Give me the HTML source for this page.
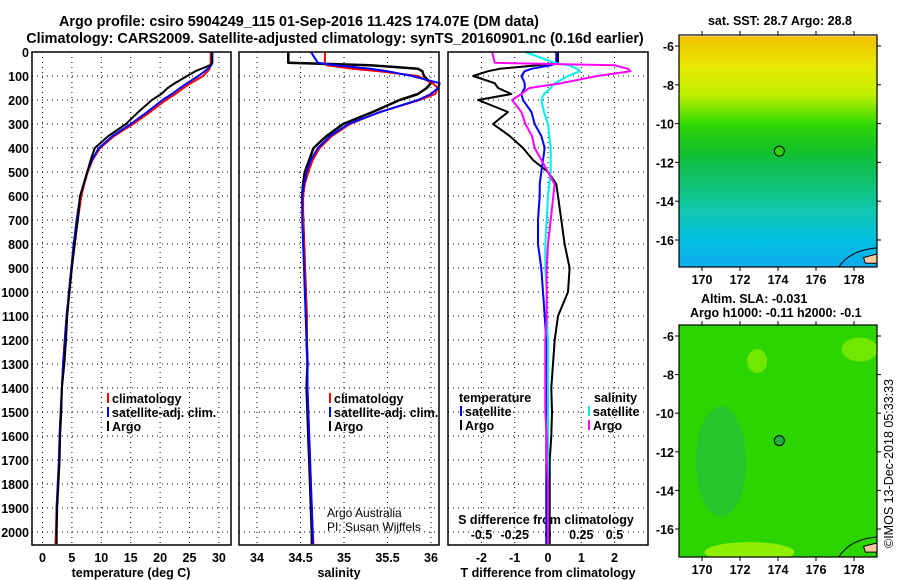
<!DOCTYPE html>
<html><head><meta charset="utf-8">
<style>
body{margin:0;background:#fff;}
svg{display:block;font-family:"Liberation Sans",sans-serif;}
.b{font-weight:bold;font-size:14.4px;}
.t{font-weight:bold;font-size:12.5px;}
</style></head>
<body>
<svg id="c" width="900" height="580" viewBox="0 0 900 580" xmlns="http://www.w3.org/2000/svg">
<text x="299" y="26" text-anchor="middle" class="b">Argo profile: csiro 5904249_115 01-Sep-2016 11.42S 174.07E (DM data)</text>
<text x="335" y="43" text-anchor="middle" class="b">Climatology: CARS2009. Satellite-adjusted climatology: synTS_20160901.nc (0.16d earlier)</text>
<text x="780" y="25" text-anchor="middle" class="t">sat. SST: 28.7 Argo: 28.8</text>
<text x="701" y="303" class="t">Altim. SLA: -0.031</text>
<text x="690" y="317" class="t">Argo h1000: -0.11 h2000: -0.1</text>
<text transform="translate(893,548) rotate(-90)" font-size="12.5">©IMOS 13-Dec-2018 05:33:33</text>
<text x="327" y="517" font-size="12">Argo Australia</text>
<text x="327" y="531" font-size="12">PI: Susan Wijffels</text>
</svg>
<script>
// ---- data ----
const depthTicks=[0,100,200,300,400,500,600,700,800,900,1000,1100,1200,1300,1400,1500,1600,1700,1800,1900,2000];
const tTicks=[0,5,10,15,20,25,30];
const sTicks=[34,34.5,35,35.5,36];
const sTickLabels=["34","34.5","35","35.5","36"];
const dtTicks=[-2,-1,0,1,2];
const dsTicks=[-0.5,-0.25,0,0.25,0.5];
const dsTickLabels=["-0.5","-0.25","0","0.25","0.5"];
const depths=[0,45,55,70,80,100,130,150,175,200,250,300,350,400,450,500,550,600,700,800,900,1000,1100,1200,1300,1400,1500,1600,1700,1800,1900,2000,2050];
const tempArgo=[28.8,28.8,28.5,27,26,24.6,22.5,21.3,20.2,18.6,16.3,14.2,11.2,8.9,8.2,7.6,7,6.4,6,5.5,5,4.6,4.2,4,3.7,3.3,3.2,3.0,2.9,2.7,2.5,2.4,2.4];
const tempClim=[28.6,28.6,28.6,28.4,28.1,27.3,25.2,24,22.6,21,18.3,15.4,12.2,9.8,8.5,7.7,7.1,6.6,6,5.4,4.9,4.5,4.1,3.8,3.5,3.3,3.1,2.9,2.8,2.6,2.4,2.3,2.2];
const tempSat=[28.9,28.9,28.7,28.1,27.6,26.5,24.6,23.4,22,20.4,17.8,15,11.9,9.6,8.4,7.6,7,6.4,5.8,5.3,4.9,4.5,4.1,3.8,3.5,3.3,3.1,2.9,2.8,2.6,2.4,2.4,2.4];
const salArgo=[34.36,34.36,35.3,35.85,35.9,35.92,36.0,35.95,35.85,35.64,35.33,34.99,34.8,34.65,34.6,34.55,34.53,34.52,34.53,34.54,34.55,34.56,34.57,34.57,34.58,34.57,34.58,34.59,34.6,34.61,34.62,34.63,34.63];
const salClim=[34.78,34.78,34.8,35.1,35.4,35.85,36.02,36.08,36.05,35.87,35.41,35.07,34.86,34.72,34.64,34.59,34.55,34.53,34.53,34.54,34.55,34.56,34.57,34.57,34.58,34.58,34.59,34.6,34.61,34.62,34.63,34.64,34.65];
const salSat=[34.62,34.7,34.9,35.3,35.5,35.78,36.1,36.08,36.0,35.85,35.42,35.05,34.84,34.7,34.62,34.57,34.54,34.52,34.52,34.53,34.54,34.55,34.56,34.57,34.58,34.58,34.59,34.6,34.61,34.62,34.63,34.64,34.64];
const dTArgo=[0.3,0.3,-0.3,-1.45,-1.8,-2.25,-1.6,-1.5,-1.1,-2.1,-1.2,-1.65,-1.15,-0.75,-0.45,0,0.25,0.3,0.4,0.5,0.65,0.6,0.3,0.2,0.15,0.1,0.12,0.1,0.05,0.05,0.05,0.05,0.05];
const dTSat=[0.25,0.25,0.1,-0.5,-0.7,-0.8,-0.7,-0.7,-0.8,-0.75,-0.5,-0.4,-0.2,-0.1,-0.15,-0.2,-0.25,-0.25,-0.3,-0.3,-0.2,-0.15,-0.1,-0.05,-0.05,-0.05,-0.05,-0.05,-0.05,-0.05,-0.05,-0.05,-0.05];
const dSSat=[-0.17,0.05,0.15,0.22,0.24,0.15,0.05,0.02,-0.03,-0.05,-0.03,0,0.01,0.02,0.02,0.02,0.01,0,-0.01,-0.02,-0.02,-0.01,-0.01,0,0,0,0,0,0,0,0,0,0];
const dSArgo=[-0.42,-0.4,0.5,0.6,0.62,0.37,0.1,-0.14,-0.2,-0.27,-0.2,-0.17,-0.12,-0.1,-0.05,0,0.05,0.04,0.02,0,-0.01,-0.01,-0.01,-0.02,-0.02,-0.02,-0.02,-0.01,-0.01,0,0,0,0];
const lonTicks=[170,172,174,176,178];
const latTicks=[-6,-8,-10,-12,-14,-16];
const sstLats=[-5.5,-7,-8.5,-10,-11.5,-13,-14.5,-16,-17.5];
const sstColors=["#f0c000","#e8e800","#c0f000","#30d800","#10c030","#10c070","#10c8b0","#00c0e0","#10a8f0"];
const floatLon=174.07, floatLat=-11.42;

// ---- helpers ----
const S=document.getElementById('c');const NS="http://www.w3.org/2000/svg";
function mk(tag,at,parent){const e=document.createElementNS(NS,tag);for(const k in at)e.setAttribute(k,at[k]);(parent||S).appendChild(e);return e;}
const Y0=52,PY=0.24;
const yD=d=>Y0+d*PY;
const P=[{x0:32,x1:231},{x0:239,x1:439},{x0:448,x1:648}];
const xT=v=>42.5+v*5.88;
const xS=v=>257+(v-34)*87;
const xDT=v=>548+v*33.3;
const xDS=v=>548+v*133;
const BOT=545;

function line(xs,xf,col,w,name){
  const pts=depths.map((d,i)=>xf(xs[i]).toFixed(1)+","+yD(d).toFixed(1));
  const e=mk('polyline',{points:pts.join(" "),fill:"none",stroke:col,"stroke-width":w,"stroke-linejoin":"round"});
  
  
}

P.forEach((p,pi)=>{
  const g=mk('g',{});
  
  
  depthTicks.forEach(d=>{mk('line',{x1:p.x0,x2:p.x1,y1:yD(d),y2:yD(d),stroke:"#000","stroke-width":1,"stroke-dasharray":"1,4"},g);});
});
tTicks.forEach(v=>{const l=mk('line',{x1:xT(v),x2:xT(v),y1:Y0,y2:BOT,stroke:"#000","stroke-dasharray":"1,4"});});
sTicks.forEach(v=>{const l=mk('line',{x1:xS(v),x2:xS(v),y1:Y0,y2:BOT,stroke:"#000","stroke-dasharray":"1,4"});});
dtTicks.forEach(v=>{const l=mk('line',{x1:xDT(v),x2:xDT(v),y1:Y0,y2:BOT,stroke:"#000","stroke-dasharray":"1,4"});});

depthTicks.forEach(d=>{const t=mk('text',{x:29,y:yD(d)+5,"text-anchor":"end",class:"t"});t.textContent=d;});
tTicks.forEach(v=>{const t=mk('text',{x:xT(v),y:562,"text-anchor":"middle",class:"t"});t.textContent=v;});
sTicks.forEach((v,i)=>{const t=mk('text',{x:xS(v),y:562,"text-anchor":"middle",class:"t"});t.textContent=sTickLabels[i];});
dtTicks.forEach(v=>{const t=mk('text',{x:xDT(v),y:562,"text-anchor":"middle",class:"t"});t.textContent=v;});
dsTicks.forEach((v,i)=>{const t=mk('text',{x:xDS(v),y:539,"text-anchor":"middle",class:"t"});t.textContent=dsTickLabels[i];});
[[131,"temperature (deg C)","temp-axis-title"],[339,"salinity","sal-axis-title"],[548,"T difference from climatology","tdiff-axis-title"]].forEach(a=>{const t=mk('text',{x:a[0],y:577,"text-anchor":"middle",class:"t"});t.textContent=a[1];});
{const t=mk('text',{x:546,y:524,"text-anchor":"middle",class:"t"});t.textContent="S difference from climatology";}

line(tempClim,xT,"#f00",2,"temp-climatology-line");
line(tempSat,xT,"#00f",2,"temp-satellite-line");
line(tempArgo,xT,"#000",2,"temp-argo-line");
line(salArgo,xS,"#000",2.5,"sal-argo-line");
line(salClim,xS,"#f00",2,"sal-climatology-line");
line(salSat,xS,"#00f",2,"sal-satellite-line");
line(dTArgo,xDT,"#000",2,"tdiff-argo-line");
line(dTSat,xDT,"#00f",2,"tdiff-satellite-line");
line(dSSat,xDS,"#00f0f0",2,"sdiff-satellite-line");
line(dSArgo,xDS,"#f0f",2,"sdiff-argo-line");

P.forEach((p,pi)=>{const r=mk('rect',{x:p.x0,y:Y0,width:p.x1-p.x0,height:BOT-Y0,fill:"none",stroke:"#000","stroke-width":1.5});});

function leg(x,y,col,label,name){
  const r=mk('rect',{x:x,y:y-10,width:2,height:10,fill:col});
  
  const t=mk('text',{x:x+5,y:y,class:"t"});t.textContent=label;
  
}
leg(107,403,"#f00","climatology","legend-entry-climatology");
leg(107,417,"#00f","satellite-adj. clim.","legend-entry-satellite-adj");
leg(107,431,"#000","Argo","legend-entry-argo");
leg(329,403,"#f00","climatology","legend-entry-sal-climatology");
leg(329,417,"#00f","satellite-adj. clim.","legend-entry-sal-satellite-adj");
leg(329,431,"#000","Argo","legend-entry-sal-argo");
{const t=mk('text',{x:459,y:402,class:"t"});t.textContent="temperature";}
{const t=mk('text',{x:594,y:402,class:"t"});t.textContent="salinity";}
leg(460,416,"#00f","satellite","legend-entry-tdiff-satellite");
leg(460,430,"#000","Argo","legend-entry-tdiff-argo");
leg(588,416,"#00f0f0","satellite","legend-entry-sdiff-satellite");
leg(588,430,"#f0f","Argo","legend-entry-sdiff-argo");

function map(top,bot,latAt6,latAt16,name,isSst){
  const L=679,R=877;
  const yL=la=>latAt6+(-6-la)*(latAt16-latAt6)/10;
  const xL=lo=>702+(lo-170)*19;
  const g=mk('g',{});
  const clip=mk('clipPath',{id:name+'-clip'});mk('rect',{x:L,y:top,width:R-L,height:bot-top},clip);
  const gg=mk('g',{"clip-path":"url(#"+name+"-clip)"},g);
  if(isSst){
    for(let i=0;i<sstLats.length-1;i++){
      const y1=yL(sstLats[i]),y2=yL(sstLats[i+1]);
      const lg=mk('linearGradient',{id:name+'g'+i,x1:0,y1:0,x2:0,y2:1});
      mk('stop',{offset:0,"stop-color":sstColors[i]},lg);mk('stop',{offset:1,"stop-color":sstColors[i+1]},lg);
      const r=mk('rect',{x:L,y:y1,width:R-L,height:y2-y1+0.5,fill:"url(#"+name+"g"+i+")"},gg);
      
    }
  }else{
    mk('rect',{x:L,y:top,width:R-L,height:bot-top,fill:"#2cd400"},gg);
    mk('ellipse',{cx:xL(171),cy:yL(-12.5),rx:25,ry:55,fill:"#20c040",opacity:0.7},gg);
    mk('ellipse',{cx:xL(172.5),cy:yL(-17.2),rx:45,ry:10,fill:"#90ee00"},gg);
    mk('ellipse',{cx:xL(178.3),cy:yL(-6.7),rx:18,ry:12,fill:"#70e800"},gg);
    mk('ellipse',{cx:xL(172.9),cy:yL(-7.3),rx:10,ry:12,fill:"#70e800"},gg);
  }
  mk('path',{d:`M${xL(177.2)},${bot} Q${xL(177.8)},${yL(-16.5)} ${xL(179.3)},${yL(-16.4)}`,fill:"none",stroke:"#000"},gg);
  mk('path',{d:`M${xL(178.5)},${yL(-16.9)} L${xL(179.3)},${yL(-16.7)} L${xL(179.3)},${yL(-17.2)} L${xL(178.6)},${yL(-17.2)} Z`,fill:"#f8c8a0",stroke:"#000"},gg);
  const c=mk('circle',{cx:xL(floatLon),cy:yL(floatLat),r:5,fill:isSst?"#30d010":"#20b040",stroke:"#000","stroke-width":1});
  
  const fr=mk('rect',{x:L,y:top,width:R-L,height:bot-top,fill:"none",stroke:"#000","stroke-width":1.2});
  
  latTicks.forEach(la=>{const y=yL(la);mk('line',{x1:L-4,x2:L,y1:y,y2:y,stroke:"#000"});mk('line',{x1:R,x2:R+4,y1:y,y2:y,stroke:"#000"});
    const t=mk('text',{x:674,y:y+5,"text-anchor":"end",class:"t"});t.textContent=la;});
  lonTicks.forEach(lo=>{const x=xL(lo);mk('line',{x1:x,x2:x,y1:top-4,y2:top,stroke:"#000"});mk('line',{x1:x,x2:x,y1:bot,y2:bot+4,stroke:"#000"});
    const t=mk('text',{x:x,y:bot+17,"text-anchor":"middle",class:"t"});t.textContent=lo;});
}
map(35,267,46,240,"sst-map",true);
map(325,557,336,529,"sla-map",false);
</script>
</body></html>
